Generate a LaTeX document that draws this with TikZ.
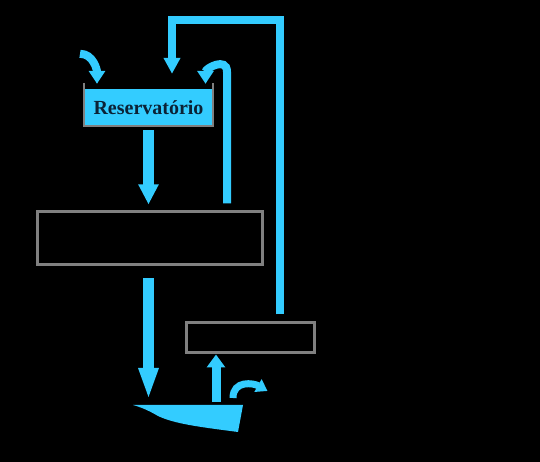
\documentclass[tikz,border=0pt]{standalone}
\usepackage{fontspec}
\setmainfont{Liberation Serif}
\usetikzlibrary{arrows.meta}
\definecolor{flowc}{HTML}{33CCFF}
\definecolor{boxgray}{HTML}{808080}
\definecolor{inkc}{HTML}{0B2236}
\begin{document}
\begin{tikzpicture}[x=1pt,y=1pt,
  flow/.style={draw=flowc, line width=#1},
  flow/.default=9pt,
  bighead/.style={-{Triangle[length=20pt 0 0,width=19pt 0 0]}},
  midhead/.style={-{Triangle[length=16pt 0 0,width=16pt 0 0]}},
  smallhead/.style={-{Triangle[length=13pt 0 0,width=16pt 0 0]}},
  unit/.style={draw=boxgray, line width=3pt, inner sep=0pt}]
\fill[black] (0,0) rectangle (540,462);
\useasboundingbox (0,0) rectangle (540,462);

% tank
\node[fill=flowc, minimum width=129pt, minimum height=37pt, inner sep=0pt,
      text=inkc, font=\bfseries\fontsize{20}{22}\selectfont] (tank) at (148.5,354.5) {Reservatório};
\draw[boxgray, line width=2.5pt] ([yshift=6pt]tank.north west) -- (tank.south west)
  -- (tank.south east) -- ([yshift=6pt]tank.north east);

% boxes
\node[unit, minimum width=225pt, minimum height=53pt] (main) at (149.5,223.5) {};
\node[unit, minimum width=128pt, minimum height=30pt] (sep) at (250,124) {};

% bottom wedge
\coordinate (wedge) at (184.5,57);
\fill[flowc] (133,57) -- (243,57) -- (238,30) .. controls (200,35) and (175,38) .. (158,46)
  .. controls (148,52) and (140,55) .. cycle;

% arrows
\draw[flow=11pt, bighead] ([yshift=-4pt]tank.south) -- ([xshift=-1pt,yshift=6pt]main.north);
\draw[flow=11pt, -{Triangle[length=32pt 0 0,width=18pt 0 0]}] ([xshift=-1pt,yshift=-12pt]main.south) -- ([xshift=-36pt,yshift=5pt]wedge);
\draw[flow=9pt, -{Triangle[length=13pt 0 0,width=18pt 0 0]}] ([xshift=31.5pt,yshift=3pt]wedge) -- ([xshift=-34pt]sep.south);
\draw[flow=7pt, -{Triangle[length=11pt 0 0,width=14pt 0 0]}] ([xshift=48.5pt,yshift=7pt]wedge)
  .. controls +(0,18) and +(-14,8) .. ([xshift=83pt,yshift=14pt]wedge);
\draw[flow=8.5pt, midhead] ([xshift=30pt,yshift=7pt]sep.north) |- ([xshift=23.5pt,yshift=69pt]tank.north)
  -- ([xshift=23.5pt,yshift=15pt]tank.north);
\draw[flow=8pt, smallhead] ([xshift=77.5pt,yshift=7pt]main.north) -- ([xshift=78.5pt,yshift=17pt]tank.north)
  to[out=90,in=90,looseness=1.6] ([xshift=57pt,yshift=5pt]tank.north);
\draw[flow=8pt, smallhead] ([xshift=-68.5pt,yshift=35pt]tank.north) to[out=0,in=90] ([xshift=-51.5pt,yshift=5pt]tank.north);
\end{tikzpicture}
\end{document}
